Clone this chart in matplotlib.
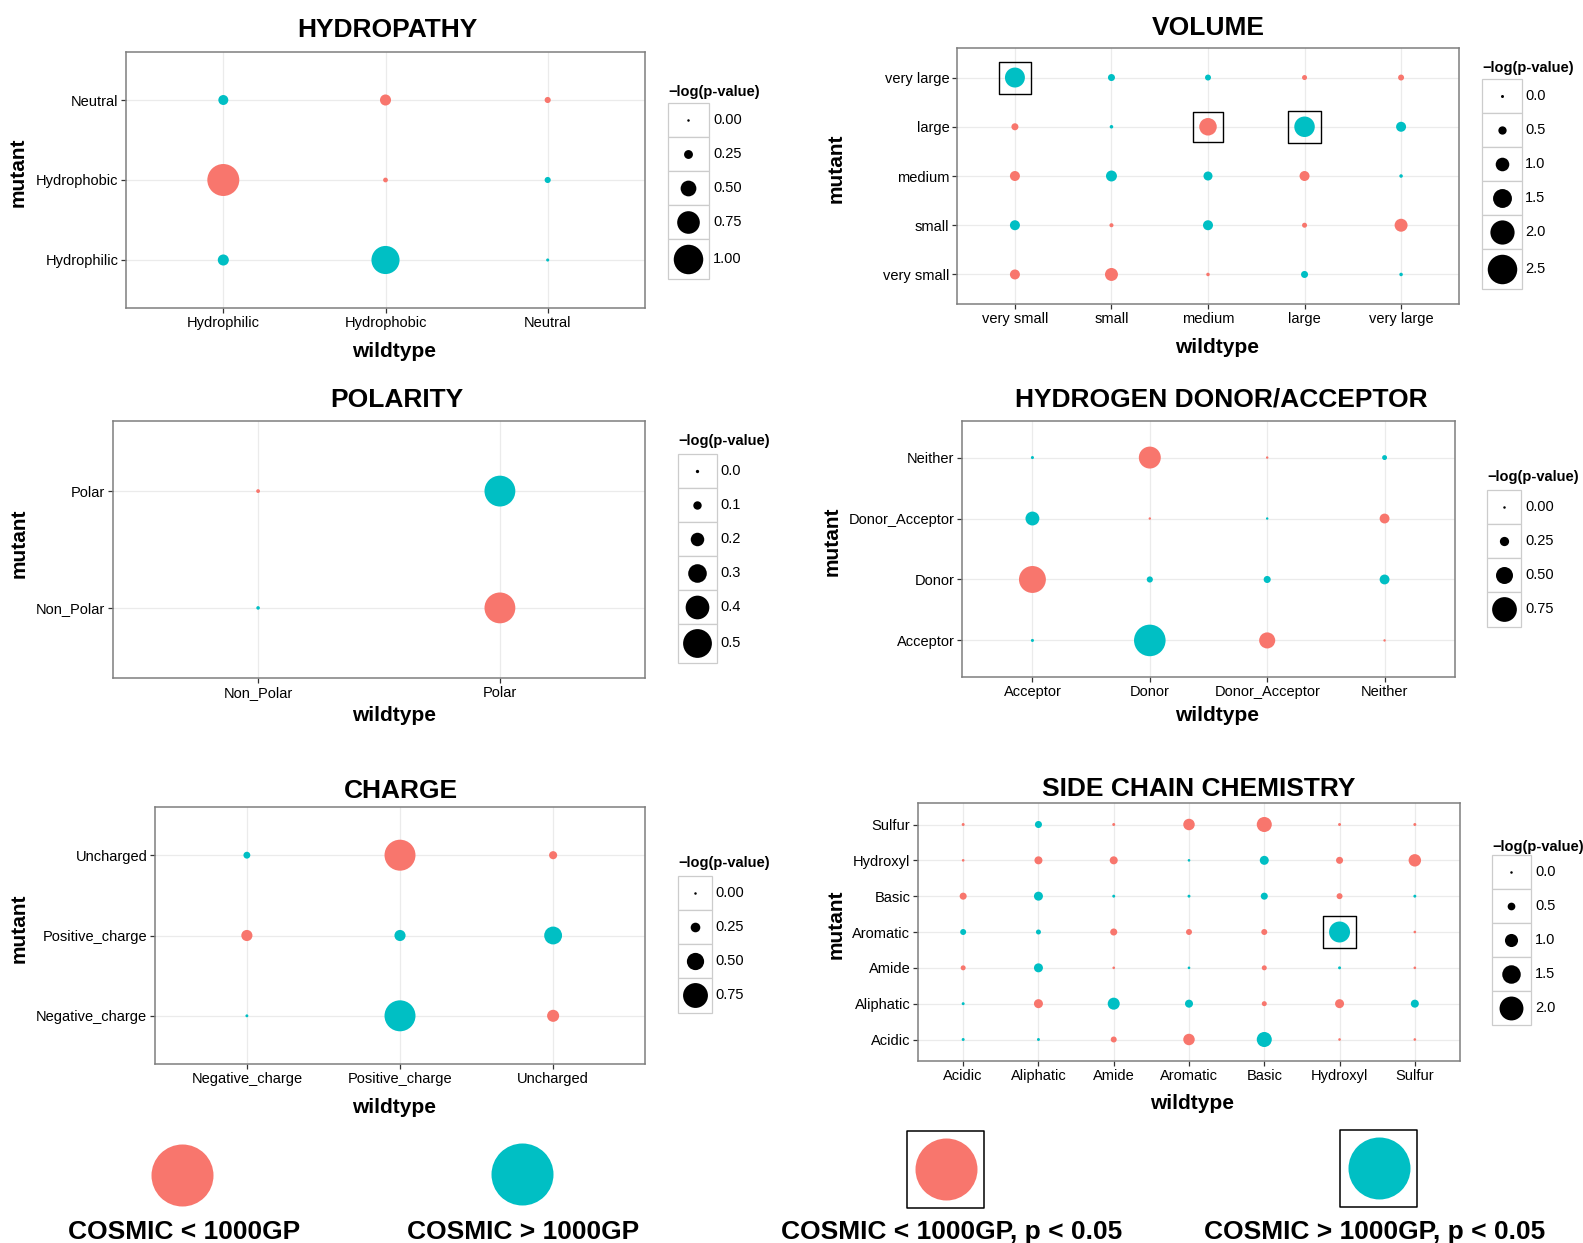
import matplotlib
matplotlib.use("Agg")
import matplotlib.pyplot as plt
from matplotlib.patches import Rectangle

W, H = 1583, 1243
RED, CYAN = "#F8766D", "#00BFC4"
plt.rcParams["font.family"] = ["Liberation Sans", "DejaVu Sans"]

# ---- data: -log(p-value) per (mutant row, wildtype column); rows bottom -> top
# direction: 1 = COSMIC > 1000GP, 0 = COSMIC < 1000GP
hydro_cats = ["Hydrophilic", "Hydrophobic", "Neutral"]
hydro_vals = [[0.33, 0.95, 0.04],
              [1.09, 0.10, 0.15],
              [0.29, 0.33, 0.15]]
hydro_dir = [[1, 1, 1],
             [0, 0, 1],
             [1, 0, 0]]
hydro_sig = []

vol_cats = ["very small", "small", "medium", "large", "very large"]
vol_vals = [[0.66, 0.94, 0.05, 0.38, 0.05],
            [0.66, 0.10, 0.66, 0.19, 0.94],
            [0.66, 0.75, 0.57, 0.66, 0.05],
            [0.38, 0.05, 1.37, 1.65, 0.66],
            [1.60, 0.38, 0.28, 0.19, 0.28]]
vol_dir = [[0, 0, 0, 1, 1],
           [1, 0, 1, 0, 0],
           [0, 1, 1, 0, 1],
           [0, 1, 0, 1, 1],
           [1, 1, 1, 0, 0]]
vol_sig = [("very large", "very small"), ("large", "medium"), ("large", "large")]

pol_cats = ["Non_Polar", "Polar"]
pol_vals = [[0.005, 0.54],
            [0.01, 0.54]]
pol_dir = [[1, 0],
           [0, 1]]
pol_sig = []

hb_cats = ["Acceptor", "Donor", "Donor_Acceptor", "Neither"]
hb_vals = [[0.05, 0.97, 0.47, 0.03],
           [0.82, 0.15, 0.18, 0.27],
           [0.40, 0.03, 0.03, 0.27],
           [0.05, 0.66, 0.03, 0.11]]
hb_dir = [[1, 1, 0, 0],
          [0, 1, 1, 1],
          [1, 0, 1, 0],
          [1, 0, 0, 1]]
hb_sig = []

chg_cats = ["Negative_charge", "Positive_charge", "Uncharged"]
chg_vals = [[0.03, 0.95, 0.33],
            [0.30, 0.30, 0.52],
            [0.16, 0.95, 0.20]]
chg_dir = [[1, 1, 0],
           [0, 1, 1],
           [1, 0, 0]]
chg_sig = []

sc_cats = ["Acidic", "Aliphatic", "Amide", "Aromatic", "Basic", "Hydroxyl", "Sulfur"]
sc_vals = [[0.06, 0.06, 0.34, 0.85, 1.18, 0.03, 0.03],
           [0.06, 0.62, 0.90, 0.53, 0.25, 0.62, 0.53],
           [0.25, 0.62, 0.03, 0.03, 0.25, 0.06, 0.03],
           [0.34, 0.25, 0.44, 0.34, 0.34, 1.73, 0.03],
           [0.44, 0.62, 0.06, 0.06, 0.44, 0.34, 0.06],
           [0.03, 0.53, 0.53, 0.03, 0.62, 0.44, 0.94],
           [0.06, 0.44, 0.06, 0.85, 1.18, 0.06, 0.06]]
sc_dir = [[1, 1, 0, 0, 1, 0, 0],
          [1, 0, 1, 1, 0, 0, 1],
          [0, 1, 0, 1, 0, 1, 0],
          [1, 1, 0, 0, 0, 1, 0],
          [0, 1, 1, 1, 1, 0, 1],
          [0, 0, 0, 1, 1, 0, 0],
          [0, 1, 0, 0, 0, 0, 0]]
sc_sig = [("Aromatic", "Hydroxyl")]

legend_labels = ["COSMIC < 1000GP", "COSMIC > 1000GP",
                 "COSMIC < 1000GP, p < 0.05", "COSMIC > 1000GP, p < 0.05"]

fig = plt.figure(figsize=(W / 100, H / 100), dpi=100)
over = fig.add_axes([0, 0, 1, 1], zorder=10)
over.set_xlim(0, W)
over.set_ylim(H, 0)
over.axis("off")


def px_rect(x0, y0, x1, y1):
    return [x0 / W, 1 - y1 / H, (x1 - x0) / W, (y1 - y0) / H]


def s_of(d):
    # pixel diameter -> scatter area in pt^2 (dpi 100)
    return (d * 0.72) ** 2


def panel(title, cats, vals, dirs, sig, box, scale, breaks, fmt, lay):
    d0, k = scale
    ax = fig.add_axes(px_rect(*box))
    n = len(cats)
    xs, ys, ss, cs = [], [], [], []
    for i, row in enumerate(vals):
        for j, v in enumerate(row):
            xs.append(j)
            ys.append(i)
            ss.append(s_of(d0 + k * v))
            cs.append(CYAN if dirs[i][j] else RED)
    ax.scatter(xs, ys, s=ss, c=cs, linewidths=0, zorder=3)
    for m, w in sig:
        i, j = cats.index(m), cats.index(w)
        ax.scatter([j], [i], s=s_of(d0 + k * vals[i][j] + 12), marker="s",
                   facecolors="none", edgecolors="black", linewidths=1.0, zorder=4)
    ax.set_xlim(-0.6, n - 0.4)
    ax.set_ylim(-0.6, n - 0.4)
    ax.set_xticks(range(n))
    ax.set_xticklabels(cats)
    ax.set_yticks(range(n))
    ax.set_yticklabels(cats)
    ax.grid(True, color="#EBEBEB", lw=0.9)
    ax.set_axisbelow(True)
    for sp in ax.spines.values():
        sp.set_color("#7F7F7F")
        sp.set_linewidth(1.1)
    ax.tick_params(length=3.5, width=0.9, color="#333333", labelsize=10.5, pad=2)

    (tx, ty), (wx, wy), (mx, my), leg = lay
    fig.text(tx / W, 1 - ty / H, title, ha="center", va="baseline",
             fontsize=19, fontweight="bold")
    fig.text(wx / W, 1 - wy / H, "wildtype", ha="center", va="top",
             fontsize=15, fontweight="bold")
    fig.text(mx / W, 1 - my / H, "mutant", ha="center", va="center",
             rotation=90, fontsize=15, fontweight="bold")

    # size legend
    lx, title_y, top, kw, labx = leg
    over.text(lx, title_y, "\u2212log(p-value)", ha="left", va="center",
              fontsize=10.5, fontweight="bold")
    y = top
    for b in breaks:
        d = d0 + k * b
        kh = max(34, d + 10)
        over.add_patch(Rectangle((lx, y), kw, kh, facecolor="white",
                                 edgecolor="#CCCCCC", lw=0.9))
        over.scatter([lx + kw / 2], [y + kh / 2], s=s_of(max(d, 2.5)), c="black",
                     linewidths=0)
        over.text(labx, y + kh / 2, fmt.format(b), ha="left", va="center", fontsize=10.5)
        y += kh


panel("HYDROPATHY", hydro_cats, hydro_vals, hydro_dir, hydro_sig,
      (126, 52, 645, 308), (2, 27.5), [0, 0.25, 0.5, 0.75, 1.0], "{:.2f}",
      ((387, 37), (394, 342), (18, 172), (668, 92, 103, 41, 713)))
panel("VOLUME", vol_cats, vol_vals, vol_dir, vol_sig,
      (957, 48, 1459, 304), (3, 10.6), [0, 0.5, 1.0, 1.5, 2.0, 2.5], "{:.1f}",
      ((1208, 35), (1217, 338), (836, 168), (1482, 68, 79, 40, 1525)))
panel("POLARITY", pol_cats, pol_vals, pol_dir, pol_sig,
      (113, 421, 645, 678), (3.3, 51), [0, 0.1, 0.2, 0.3, 0.4, 0.5], "{:.1f}",
      ((397, 407), (394, 706), (19, 543), (678, 441, 454, 39, 720)))
panel("HYDROGEN DONOR/ACCEPTOR", hb_cats, hb_vals, hb_dir, hb_sig,
      (962, 421, 1455, 677), (1.5, 31), [0, 0.25, 0.5, 0.75], "{:.2f}",
      ((1221, 406), (1217, 706), (832, 541), (1487, 477, 490, 34, 1525)))
panel("CHARGE", chg_cats, chg_vals, chg_dir, chg_sig,
      (155, 807, 645, 1064), (2, 30.5), [0, 0.25, 0.5, 0.75], "{:.2f}",
      ((401, 798), (394, 1098), (19, 928), (678, 863, 876, 34, 715)))
panel("SIDE CHAIN CHEMISTRY", sc_cats, sc_vals, sc_dir, sc_sig,
      (918, 803, 1460, 1061), (2.3, 10.8), [0, 0.5, 1.0, 1.5, 2.0], "{:.1f}",
      ((1199, 796), (1192, 1094), (836, 924), (1492, 847, 855, 39, 1535)))

# colour / significance legend along the bottom
items = [((182, 1175), RED, False, 184),
         ((522, 1174), CYAN, False, 523),
         ((946, 1169), RED, True, 952),
         ((1379, 1168), CYAN, True, 1375)]
for ((cx, cy), col, boxed, tcx), lab in zip(items, legend_labels):
    over.scatter([cx], [cy], s=s_of(62), c=col, linewidths=0)
    if boxed:
        over.scatter([cx], [cy], s=s_of(77), marker="s", facecolors="none",
                     edgecolors="black", linewidths=1.1)
    over.text(tcx, 1239, lab, ha="center", va="baseline", fontsize=19, fontweight="bold")

fig.savefig("out.png", dpi=100)
